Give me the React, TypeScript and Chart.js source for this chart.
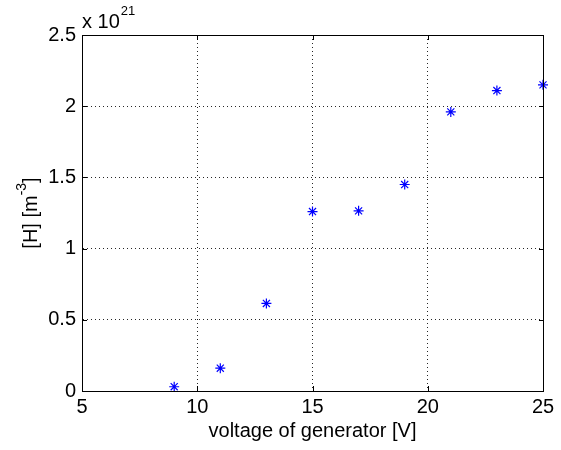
import React, { useEffect, useRef } from "react";
import { Chart, registerables } from "chart.js";

Chart.register(...registerables);

const voltages = [9, 11, 13, 15, 17, 19, 21, 23, 25];
const hDensity = [0.03, 0.16, 0.615, 1.26, 1.265, 1.45, 1.96, 2.11, 2.15];
const xTicks = [5, 10, 15, 20, 25];
const yTicks = [0, 0.5, 1, 1.5, 2, 2.5];
const xTitle = "voltage of generator [V]";
const yTitleMain = "[H] [m";
const yTitleSup = "-3";
const yTitleEnd = "]";
const expBase = "x 10";
const expPow = "21";

const FONT = "Arial, 'Liberation Sans', Helvetica, sans-serif";

const framePlugin = {
  id: "matlabFrame",
  afterDraw(chart: any) {
    const ctx: CanvasRenderingContext2D = chart.ctx;
    const { left, right, top, bottom } = chart.chartArea;
    const xs = chart.scales.x;
    const ys = chart.scales.y;
    ctx.save();
    ctx.setLineDash([]);
    ctx.globalAlpha = 1;
    ctx.fillStyle = "#000";
    const L = Math.round(left);
    const R = Math.round(right);
    const T = Math.round(top);
    const B = Math.round(bottom);
    // frame as filled rects (crisp 1px)
    ctx.fillRect(L, T, R - L + 1, 1);
    ctx.fillRect(L, B, R - L + 1, 1);
    ctx.fillRect(L, T, 1, B - T + 1);
    ctx.fillRect(R, T, 1, B - T + 1);
    // inner tick marks
    const tl = 5;
    xTicks.forEach((v) => {
      const px = Math.round(xs.getPixelForValue(v));
      ctx.fillRect(px, B - tl, 1, tl);
      ctx.fillRect(px, T, 1, tl);
    });
    yTicks.forEach((v) => {
      const py = Math.round(ys.getPixelForValue(v));
      ctx.fillRect(L, py, tl, 1);
      ctx.fillRect(R - tl + 1, py, tl, 1);
    });

    // exponent label
    ctx.textBaseline = "alphabetic";
    ctx.textAlign = "left";
    ctx.font = `20px ${FONT}`;
    const bx = left;
    ctx.fillText(expBase, bx, 28);
    const w = ctx.measureText(expBase).width;
    ctx.font = `13px ${FONT}`;
    ctx.fillText(expPow, bx + w + 1, 15);

    // y title with superscript
    ctx.save();
    const cx = 37;
    const cy = (top + bottom) / 2;
    ctx.translate(cx, cy);
    ctx.rotate(-Math.PI / 2);
    ctx.font = `20px ${FONT}`;
    const w1 = ctx.measureText(yTitleMain).width;
    const w3 = ctx.measureText(yTitleEnd).width;
    ctx.font = `14px ${FONT}`;
    const w2 = ctx.measureText(yTitleSup).width;
    const total = w1 + w2 + w3;
    let x0 = -total / 2;
    ctx.font = `20px ${FONT}`;
    ctx.fillText(yTitleMain, x0, 0);
    x0 += w1;
    ctx.font = `14px ${FONT}`;
    ctx.fillText(yTitleSup, x0, -11);
    x0 += w2;
    ctx.font = `20px ${FONT}`;
    ctx.fillText(yTitleEnd, x0, 0);
    ctx.restore();

    ctx.restore();
  },
};

export default function App() {
  const ref = useRef<HTMLCanvasElement | null>(null);
  useEffect(() => {
    document.body.style.margin = "0";
    const canvas = ref.current;
    if (!canvas) return;
    const chart = new Chart(canvas, {
      type: "scatter",
      data: {
        datasets: [
          {
            data: voltages.map((v, i) => ({ x: v, y: hDensity[i] })),
            pointStyle: "star",
            pointRadius: 5,
            pointHoverRadius: 5,
            borderColor: "#0000ff",
            backgroundColor: "#0000ff",
            borderWidth: 1.2,
            showLine: false,
            clip: false,
          },
        ],
      },
      plugins: [framePlugin],
      options: {
        animation: false,
        responsive: false,
        maintainAspectRatio: false,
        events: [],
        layout: { padding: { left: 0, right: 18, top: 35, bottom: 0 } },
        plugins: {
          legend: { display: false },
          tooltip: { enabled: false },
        },
        scales: {
          x: {
            type: "linear",
            min: 5,
            max: 25,
            afterFit: (s: any) => {
              s.height = 59;
            },
            afterBuildTicks: (s: any) => {
              s.ticks = xTicks.map((v) => ({ value: v }));
            },
            ticks: {
              color: "#000",
              padding: 4,
              font: { family: FONT, size: 20 },
              maxRotation: 0,
              callback: (v: any) => String(v),
            },
            grid: {
              color: "rgba(0,0,0,0.85)",
              drawTicks: false,
              lineWidth: 1,
            },
            border: { display: true, color: "#000", width: 1, dash: [1, 3] },
            title: {
              display: true,
              text: xTitle,
              color: "#000",
              font: { family: FONT, size: 20 },
              padding: { top: 0, bottom: 7 },
            },
          },
          y: {
            type: "linear",
            min: 0,
            max: 2.5,
            afterFit: (s: any) => {
              s.width = 82;
            },
            afterBuildTicks: (s: any) => {
              s.ticks = yTicks.map((v) => ({ value: v }));
            },
            ticks: {
              color: "#000",
              padding: 6,
              font: { family: FONT, size: 20 },
              callback: (v: any) => String(v),
            },
            grid: {
              color: "rgba(0,0,0,0.85)",
              drawTicks: false,
              lineWidth: 1,
            },
            border: { display: true, color: "#000", width: 1, dash: [1, 3] },
          },
        },
      },
    });
    return () => chart.destroy();
  }, []);
  return (
    <div style={{ width: 561, height: 450, background: "#fff" }}>
      <canvas ref={ref} width={561} height={450} style={{ display: "block" }} />
    </div>
  );
}
